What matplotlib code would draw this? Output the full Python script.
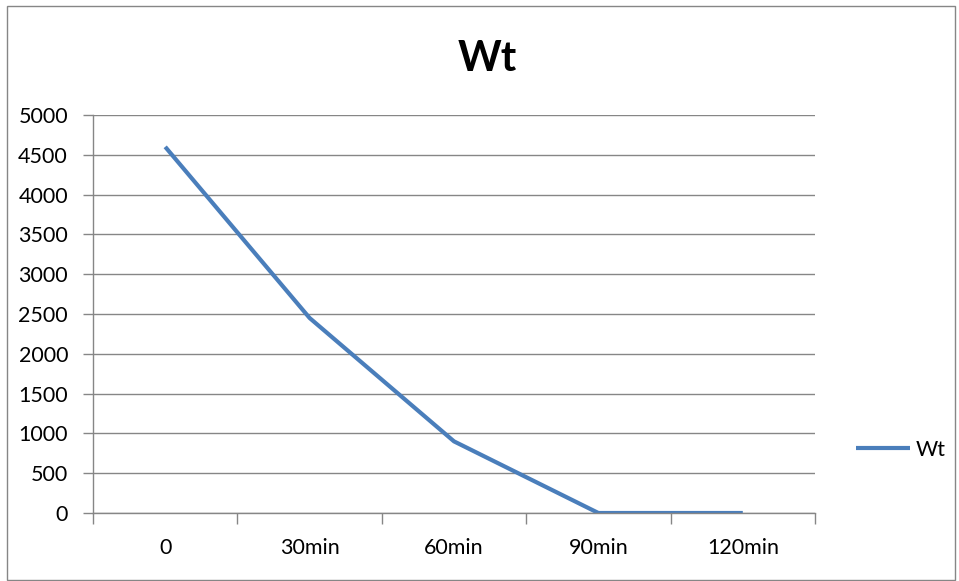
#!/usr/bin/env python3
import matplotlib
matplotlib.use("Agg")
import matplotlib.pyplot as plt
from matplotlib.patches import Rectangle

# --- data ---
categories = ["0", "30min", "60min", "90min", "120min"]
wt_values = [4600, 2450, 900, 0, 0]
y_ticks = [0, 500, 1000, 1500, 2000, 2500, 3000, 3500, 4000, 4500, 5000]

plt.rcParams["font.family"] = ["Lato", "DejaVu Sans"]

grey = "#868686"
blue = "#4a7ebb"

fig = plt.figure(figsize=(9.59, 5.81), dpi=100)
ax = fig.add_axes([93 / 959, 68 / 581, 722 / 959, 398 / 581])

x = list(range(len(categories)))
ax.plot(x, wt_values, color=blue, linewidth=3, label="Wt", solid_capstyle="butt")

ax.set_xlim(-0.5, len(categories) - 0.5)
ax.set_ylim(0, 5000)
ax.set_yticks(y_ticks)
ax.set_yticklabels([str(v) for v in y_ticks], fontsize=15.5)
ax.set_xticks(x)
ax.set_xticklabels(categories, fontsize=15.5)
# tick marks sit between categories, like Excel
ax.set_xticks([i - 0.5 for i in range(len(categories) + 1)], minor=True)
ax.tick_params(axis="x", which="major", length=0, pad=18)
ax.tick_params(axis="x", which="minor", length=8, width=1, color=grey)
ax.tick_params(axis="y", length=7, width=1, color=grey, pad=11)

ax.grid(axis="y", color=grey, linewidth=1)
ax.set_axisbelow(True)
for side in ["top", "right"]:
    ax.spines[side].set_visible(False)
for side in ["left", "bottom"]:
    ax.spines[side].set_color(grey)
    ax.spines[side].set_linewidth(1)

fig.text(487 / 959, 1 - 59 / 581, "Wt", fontsize=30, fontweight="bold",
         ha="center", va="center")

ax.legend(loc="center left", bbox_to_anchor=(837 / 959, 1 - 450 / 581),
          bbox_transform=fig.transFigure, frameon=False, fontsize=15.5,
          handlelength=2.5, handletextpad=0.25)

# outer chart border
fig.patches.append(Rectangle((7 / 959, 0.002), 948 / 959, 1 - 7 / 581,
                             transform=fig.transFigure, fill=False,
                             edgecolor=grey, linewidth=1))

fig.savefig("out.png", dpi=100)
plt.close("all")
